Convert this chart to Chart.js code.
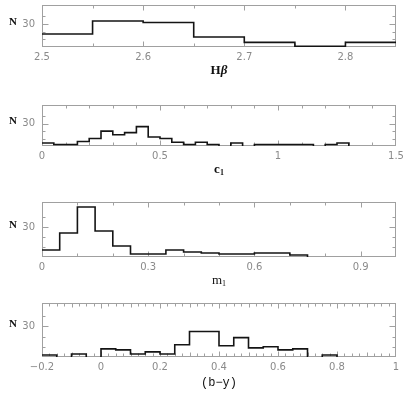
<!DOCTYPE html>
<html><head><meta charset="utf-8">
<script src="https://cdn.jsdelivr.net/npm/chart.js@4/dist/chart.umd.min.js"></script>
<style>
html,body{margin:0;padding:0;background:#fff;width:411px;height:394px;overflow:hidden;position:relative}
.p{position:absolute;left:0;width:411px}
</style></head><body>
<div class="p" style="top:0;height:92px"><canvas id="cHb"></canvas></div>
<div class="p" style="top:100px;height:91px"><canvas id="cC1"></canvas></div>
<div class="p" style="top:197px;height:100px"><canvas id="cM1"></canvas></div>
<div class="p" style="top:298px;height:96px"><canvas id="cBy"></canvas></div>
<script>
// ---- data (bin edges and counts) ----
const hbEdges = [2.50,2.55,2.60,2.65,2.70,2.75,2.80,2.85];
const hbCounts = [17,34,32,13,6,1,6];
const hbTickVals = [2.5,2.6,2.7,2.8];
const hbTickText = ['2.5','2.6','2.7','2.8'];

const c1Edges = [0,0.05,0.10,0.15,0.20,0.25,0.30,0.35,0.40,0.45,0.50,0.55,0.60,0.65,0.70,0.75,0.80,0.85,0.90,0.95,1.00,1.05,1.10,1.15,1.20,1.25,1.30,1.35,1.40,1.45,1.50];
const c1Counts = [4,2,2,6,10,20,15,18,26,12,10,5,2,5,2,0,4,0,2,2,2,2,2,0,2,4,0,0,0,0];
const c1TickVals = [0,0.5,1,1.5];
const c1TickText = ['0','0.5','1','1.5'];

const m1Edges = [0,0.05,0.10,0.15,0.20,0.25,0.30,0.35,0.40,0.45,0.50,0.55,0.60,0.65,0.70,0.75,0.80,0.85,0.90,0.95,1.00];
const m1Counts = [7,24,50,26,11,3,3,7,5,4,3,3,4,4,2,0,0,0,0,0];
const m1TickVals = [0,0.3,0.6,0.9];
const m1TickText = ['0','0.3','0.6','0.9'];

const byEdges = [-0.20,-0.15,-0.10,-0.05,0,0.05,0.10,0.15,0.20,0.25,0.30,0.35,0.40,0.45,0.50,0.55,0.60,0.65,0.70,0.75,0.80,0.85,0.90,0.95,1.00];
const byCounts = [2,0,3,0,8,7,3,5,3,12,25,25,11,19,9,10,7,8,0,2,0,0,0,0];
const byTickVals = [-0.2,0,0.2,0.4,0.6,0.8,1];
const byTickText = ['\u22120.2','0','0.2','0.4','0.6','0.8','1'];

const yTickVals = [30];
const yTickText = ['30'];

// ---- helpers ----
// outline of the histogram: each bin contributes its two top corners
function histPoints(edges, counts){
  const pts = [];
  counts.forEach((c,i)=>{ pts.push({x:edges[i], y:c}); pts.push({x:edges[i+1], y:c}); });
  return pts;
}
function isMult(v, step){ const r = v/step; return Math.abs(r-Math.round(r)) < 1e-6; }
function labelFor(v, vals, texts){
  for (let i=0;i<vals.length;i++) if (Math.abs(vals[i]-v)<1e-6) return texts[i];
  return '';
}

const framePlugin = {
  id: 'frame',
  beforeDatasetsDraw(chart, args, o){
    const {ctx, chartArea:a} = chart;
    const xs = chart.scales.x, ys = chart.scales.y;
    ctx.save();
    ctx.strokeStyle = '#a0a0a0'; ctx.lineWidth = 1;
    const L = Math.round(a.left)+0.5, R = Math.round(a.right)-0.5;
    const T = Math.round(a.top)+0.5, B = Math.round(a.bottom)-0.5;
    ctx.strokeRect(L, T, R-L, B-T);
    ctx.beginPath();
    xs.ticks.forEach(t=>{
      const v = t.value;
      if (!isMult(v - o.xmin, o.minor)) return;
      if (Math.abs(v-o.xmin)<1e-9 || Math.abs(v-o.xmax)<1e-9) return;
      const px = Math.round(xs.getPixelForValue(v))+0.5;
      const len = t.label ? 5 : (o.mid && isMult(v - o.xmin, o.mid) ? 4 : 3);
      ctx.moveTo(px,B); ctx.lineTo(px,B-len);
      ctx.moveTo(px,T); ctx.lineTo(px,T+len);
    });
    ys.ticks.forEach(t=>{
      const v = t.value;
      if (!isMult(v, 10) || v<=0 || v>=ys.max) return;
      const py = Math.round(ys.getPixelForValue(v))+0.5;
      const len = t.label ? 6 : 3;
      ctx.moveTo(L,py); ctx.lineTo(L+len,py);
      ctx.moveTo(R,py); ctx.lineTo(R-len,py);
    });
    ctx.stroke();
    // "N" label
    ctx.fillStyle = '#111';
    ctx.font = 'bold 11px "Liberation Serif"';
    ctx.textAlign = 'center'; ctx.textBaseline = 'middle';
    ctx.fillText('N', 13, ys.getPixelForValue(30)-2);
    // axis title
    const parts = o.title;
    let w = 0;
    parts.forEach(p=>{ ctx.font = p.font; p.w = ctx.measureText(p.t).width; w += p.w; });
    let x = (a.left + a.right)/2 - w/2;
    const y = a.bottom + o.titleDy;
    ctx.textAlign = 'left';
    parts.forEach(p=>{ ctx.font = p.font; ctx.fillText(p.t, x, y + (p.dy||0)); x += p.w; });
    ctx.restore();
  }
};

function makeChart(id, cfg){
  new Chart(document.getElementById(id), {
    type: 'line',
    data: { datasets: [{
      data: histPoints(cfg.edges, cfg.counts),
      borderColor: '#141414', borderWidth: 1.6,
      pointRadius: 0, fill: false, clip: false, tension: 0,
      segment: { borderColor: c => (c.p0.parsed.y === 0 && c.p1.parsed.y === 0) ? 'rgba(0,0,0,0)' : undefined }
    }]},
    options: {
      responsive: true, maintainAspectRatio: false, animation: false, events: [],
      layout: { padding: { top: 5, right: 15, left: 0, bottom: 0 }, autoPadding: false },
      plugins: { legend: {display:false}, tooltip: {enabled:false},
        frame: { xmin: cfg.xmin, xmax: cfg.xmax, minor: cfg.minor, mid: cfg.mid, title: cfg.title, titleDy: cfg.titleDy } },
      scales: {
        x: {
          type: 'linear', min: cfg.xmin, max: cfg.xmax,
          grid: { display: false, drawTicks: false }, border: { display: false },
          ticks: { stepSize: cfg.minor, autoSkip: false, maxRotation: 0, minRotation: 0,
            padding: 4, color: '#8a8a8a', font: { family: 'DejaVu Sans', size: 10 },
            callback: v => labelFor(v, cfg.tickVals, cfg.tickText) },
          afterFit: s => { s.height = cfg.xh; s.paddingLeft = 0; s.paddingRight = 0; }
        },
        y: {
          type: 'linear', min: 0, max: cfg.ymax,
          grid: { display: false, drawTicks: false }, border: { display: false },
          ticks: { stepSize: 10, autoSkip: false, padding: 7, color: '#8a8a8a',
            font: { family: 'DejaVu Sans', size: 10 },
            callback: v => labelFor(v, yTickVals, yTickText) },
          afterFit: s => { s.width = 42; s.paddingTop = 0; s.paddingBottom = 0; }
        }
      }
    },
    plugins: [framePlugin]
  });
}

const serifB = 'bold 13px "Liberation Serif"';
makeChart('cHb', { edges: hbEdges, counts: hbCounts, xmin: 2.5, xmax: 2.85, minor: 0.05,
  tickVals: hbTickVals, tickText: hbTickText, ymax: 55, xh: 45, titleDy: 24,
  title: [{t:'H', font: serifB}, {t:'\u03b2', font: 'bold italic 13px "Liberation Serif"'}] });
makeChart('cC1', { edges: c1Edges, counts: c1Counts, xmin: 0, xmax: 1.5, minor: 0.1,
  tickVals: c1TickVals, tickText: c1TickText, ymax: 55, xh: 45, titleDy: 24,
  title: [{t:'c', font: serifB}, {t:'1', font: 'bold 8px "Liberation Serif"', dy: 3}] });
makeChart('cM1', { edges: m1Edges, counts: m1Counts, xmin: 0, xmax: 1.0, minor: 0.1,
  tickVals: m1TickVals, tickText: m1TickText, ymax: 55, xh: 40, titleDy: 24,
  title: [{t:'m', font: '13px "Liberation Serif"'}, {t:'1', font: '8px "Liberation Serif"', dy: 3}] });
makeChart('cBy', { edges: byEdges, counts: byCounts, xmin: -0.2, xmax: 1.0, minor: 0.025, mid: 0.1,
  tickVals: byTickVals, tickText: byTickText, ymax: 53, xh: 37, titleDy: 26,
  title: [{t:'(b\u2212y)', font: '12px "Liberation Mono"'}] });
</script>
</body></html>
